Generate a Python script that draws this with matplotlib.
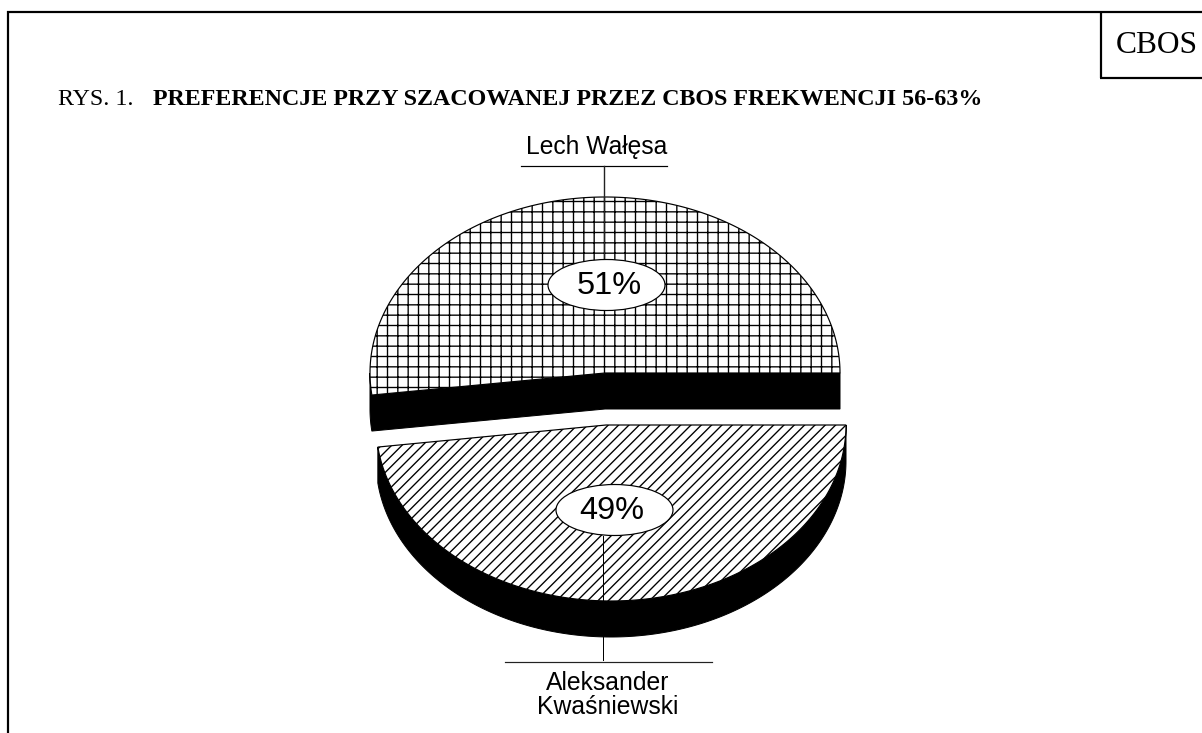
import numpy as np
import matplotlib
matplotlib.use("Agg")
import matplotlib.pyplot as plt
from matplotlib.patches import Polygon, Ellipse

# Data
candidates = ["Lech Wałęsa", "Aleksander\nKwaśniewski"]
shares = [51, 49]
share_labels = ["51%", "49%"]
source_label = "CBOS"
fig_prefix = "RYS. 1."
fig_title = "PREFERENCJE PRZY SZACOWANEJ PRZEZ CBOS FREKWENCJI 56-63%"

DPI = 124
W, H = 1202, 733
px = 72 / DPI
plt.rcParams["hatch.linewidth"] = 1.35 * px

fig = plt.figure(figsize=(W / DPI, H / DPI), dpi=DPI)
ax = fig.add_axes([0, 0, 1, 1])
ax.set_xlim(0, W)
ax.set_ylim(H, 0)
ax.axis("off")

# Perspective tilt applied to the split between the two slices
split = 180 + (shares[0] - shares[1]) * 3.6
RX, RY, DEPTH = 235, 176, 36


def arc(cx, cy, t0, t1, n=200):
    t = np.radians(np.linspace(t0, t1, n))
    return np.column_stack([cx + RX * np.cos(t), cy - RY * np.sin(t)])


def extrude(pts, d=DEPTH):
    return np.vstack([pts, (pts + [0, d])[::-1]])


# Upper slice
ucx, ucy, uapex = 605, 373, 605
u_arc = arc(ucx, ucy, 0, split)
front = np.vstack([arc(ucx, ucy, 180, split, 20), [[uapex, ucy]], [u_arc[0]]])
ax.add_patch(Polygon(extrude(front), fc="black", ec="black", lw=px, zorder=2))
ax.add_patch(Polygon(np.vstack([u_arc, [[uapex, ucy]]]), fc="white", ec="black",
                     lw=1.2 * px, hatch="++", zorder=3))

# Lower slice
lcx, lcy, lapex = 611, 425, 606
l_arc = arc(lcx, lcy, split, 360)
ax.add_patch(Polygon(extrude(l_arc), fc="black", ec="black", lw=px, zorder=2))
ax.add_patch(Polygon(np.vstack([l_arc, [[lapex, lcy]]]), fc="white", ec="black",
                     lw=1.2 * px, hatch="////", zorder=3))

# Leaders
ax.plot([521, 667], [165.5, 165.5], color="black", lw=1.2 * px, zorder=4)
ax.plot([604, 604], [166, 259], color="#222222", lw=1.4 * px, zorder=4)
ax.plot([505, 712], [661.5, 661.5], color="#222222", lw=1.2 * px, zorder=4)
ax.plot([602.5, 602.5], [536, 660], color="black", lw=1.0 * px, zorder=4)

# Value ovals
sans = "Liberation Sans"
for (cx, cy), (tx, ty), lab in zip([(606.5, 285), (614.5, 510)],
                                   [(609, 286.5), (612, 511)], share_labels):
    ax.add_patch(Ellipse((cx, cy), 117, 51, fc="white", ec="black", lw=1.2 * px, zorder=5))
    ax.text(tx, ty, lab, ha="center", va="center", family=sans,
            fontsize=32.5 * px, zorder=6)

ax.text(597, 147, candidates[0], ha="center", va="center", family=sans, fontsize=24.7 * px)
ax.text(608, 695, candidates[1], ha="center", va="center", family=sans,
        fontsize=24.8 * px, linespacing=1.0)

# Frame
frame = dict(color="black", lw=2.2 * px, solid_capstyle="butt", clip_on=False)
ax.plot([7, W], [12, 12], **frame)
ax.plot([8, 8], [11, H], **frame)
ax.plot([1101, 1101], [12, 78], **frame)
ax.plot([1100, W], [77.5, 77.5], **frame)

# Header text
serif = "Liberation Serif"
ax.text(1116, 53, source_label, ha="left", va="baseline", family=serif, fontsize=31.5 * px)
ax.text(58, 105, fig_prefix, ha="left", va="baseline", family=serif, fontsize=24 * px)
ax.text(153, 105, fig_title, ha="left", va="baseline", family=serif, weight="bold",
        fontsize=24 * px)

fig.savefig("out.png", dpi=DPI)
